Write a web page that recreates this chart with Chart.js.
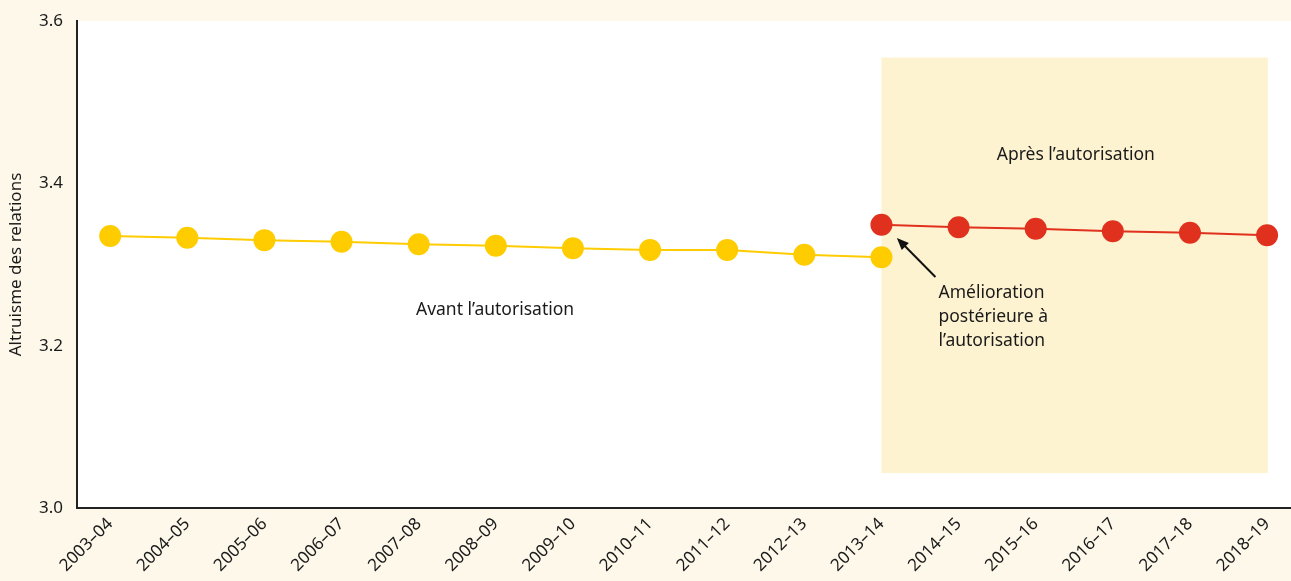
<!DOCTYPE html>
<html>
<head>
<meta charset="utf-8">
<script src="https://cdn.jsdelivr.net/npm/chart.js@4/dist/chart.umd.min.js"></script>
<style>
  html, body { margin: 0; padding: 0; background: #fdf8ea; overflow: hidden; }
  canvas { display: block; }
</style>
</head>
<body>
<canvas id="altruismChart" width="1291" height="581"></canvas>
<script>
// Years on the x axis
const categories = ['2003–04', '2004–05', '2005–06', '2006–07', '2007–08', '2008–09', '2009–10', '2010–11',
    '2011–12', '2012–13', '2013–14', '2014–15', '2015–16', '2016–17', '2017–18', '2018–19'];

// Before licensing: 2003–04 .. 2013–14
const beforeValues = [3.335, 3.333, 3.330, 3.328, 3.325, 3.323, 3.320, 3.318, 3.318, 3.312, 3.309];
// After licensing: 2013–14 .. 2018–19
const afterValues = [3.349, 3.346, 3.344, 3.341, 3.339, 3.336];
const afterStart = 10;

const yTicks = [3.0, 3.2, 3.4, 3.6];

const FONT = '"Noto Sans", sans-serif';

// cream page, white plot area, shaded "after" box, notes and arrow
const decorPlugin = {
    id: 'decor',
    beforeDraw(chart) {
        const { ctx, chartArea: a, scales: { x, y } } = chart;
        ctx.save();
        ctx.fillStyle = '#fdf8ea';
        ctx.fillRect(0, 0, chart.width, chart.height);
        ctx.fillStyle = '#ffffff';
        ctx.fillRect(a.left, a.top, a.right - a.left, a.bottom - a.top);
        // shaded period
        ctx.fillStyle = '#fef3d0';
        const x0 = x.getPixelForValue(afterStart), x1 = x.getPixelForValue(15.01);
        const y0 = y.getPixelForValue(3.555), y1 = y.getPixelForValue(3.043);
        ctx.fillRect(x0, y0, x1 - x0, y1 - y0);
        ctx.restore();
    },
    afterDatasetsDraw(chart) {
        const { ctx, scales: { x, y } } = chart;
        ctx.save();
        ctx.fillStyle = '#1a1a1a';
        ctx.font = '17.5px ' + FONT;
        ctx.textBaseline = 'middle';
        ctx.textAlign = 'center';
        ctx.fillText('Après l’autorisation', x.getPixelForValue(12.52), y.getPixelForValue(3.435));
        ctx.fillText('Avant l’autorisation', x.getPixelForValue(4.99), y.getPixelForValue(3.244));
        ctx.textAlign = 'left';
        const tx = x.getPixelForValue(10.74);
        const lines = ['Amélioration', 'postérieure à', 'l’autorisation'];
        lines.forEach((t, i) => {
            ctx.fillText(t, tx, y.getPixelForValue(3.265) + i * 24);
        });
        // arrow
        const ax = x.getPixelForValue(10.70), ay = y.getPixelForValue(3.2846);
        const hx = x.getPixelForValue(10.20), hy = y.getPixelForValue(3.3326);
        ctx.strokeStyle = '#111';
        ctx.lineWidth = 2;
        ctx.beginPath();
        ctx.moveTo(ax, ay);
        ctx.lineTo(hx + 6, hy + 6);
        ctx.stroke();
        const ang = Math.atan2(hy - ay, hx - ax);
        ctx.fillStyle = '#111';
        ctx.beginPath();
        ctx.moveTo(hx, hy);
        ctx.lineTo(hx - 13 * Math.cos(ang - 0.4), hy - 13 * Math.sin(ang - 0.4));
        ctx.lineTo(hx - 13 * Math.cos(ang + 0.4), hy - 13 * Math.sin(ang + 0.4));
        ctx.closePath();
        ctx.fill();
        ctx.restore();
    }
};

const ctx = document.getElementById('altruismChart').getContext('2d');

const altruismChart = new Chart(ctx, {
    type: 'line',
    data: {
        datasets: [{
            label: 'Avant l’autorisation',
            data: beforeValues.map((v, i) => ({ x: i, y: v })),
            borderColor: '#ffcc00',
            backgroundColor: '#ffcc00',
            borderWidth: 2,
            pointRadius: 11,
            pointHoverRadius: 11,
            pointBorderWidth: 0
        }, {
            label: 'Après l’autorisation',
            data: afterValues.map((v, i) => ({ x: afterStart + i, y: v })),
            borderColor: '#e0301e',
            backgroundColor: '#e0301e',
            borderWidth: 2,
            pointRadius: 11,
            pointHoverRadius: 11,
            pointBorderWidth: 0
        }]
    },
    options: {
        responsive: false,
        animation: false,
        layout: { autoPadding: false, padding: { top: 21, right: 0, left: 0, bottom: 0 } },
        plugins: {
            legend: { display: false },
            tooltip: { enabled: false }
        },
        scales: {
            x: {
                type: 'linear',
                min: -0.43,
                max: 15.31,
                grid: { display: false, drawTicks: false },
                border: { color: '#222', width: 2 },
                afterBuildTicks(scale) {
                    scale.ticks = categories.map((c, i) => ({ value: i }));
                },
                afterFit(scale) {
                    scale.height = 73;
                    scale.paddingLeft = 0;
                    scale.paddingRight = 0;
                },
                ticks: {
                    autoSkip: false,
                    minRotation: 45,
                    maxRotation: 45,
                    padding: 6,
                    color: '#1a1a1a',
                    font: { family: FONT, size: 17 },
                    callback: (v) => categories[v]
                }
            },
            y: {
                min: 3.0,
                max: 3.6,
                grid: { display: false, drawTicks: false },
                border: { color: '#222', width: 2 },
                afterBuildTicks(scale) {
                    scale.ticks = yTicks.map(v => ({ value: v }));
                },
                afterFit(scale) {
                    scale.width = 77;
                    scale.paddingTop = 0;
                    scale.paddingBottom = 0;
                },
                title: {
                    display: true,
                    text: 'Altruisme des relations',
                    color: '#1a1a1a',
                    font: { family: FONT, size: 17 },
                    padding: { top: 6, bottom: 4 }
                },
                ticks: {
                    padding: 14,
                    color: '#1a1a1a',
                    font: { family: FONT, size: 17 },
                    callback: (v) => v.toFixed(1)
                }
            }
        }
    },
    plugins: [decorPlugin]
});
</script>
</body>
</html>
